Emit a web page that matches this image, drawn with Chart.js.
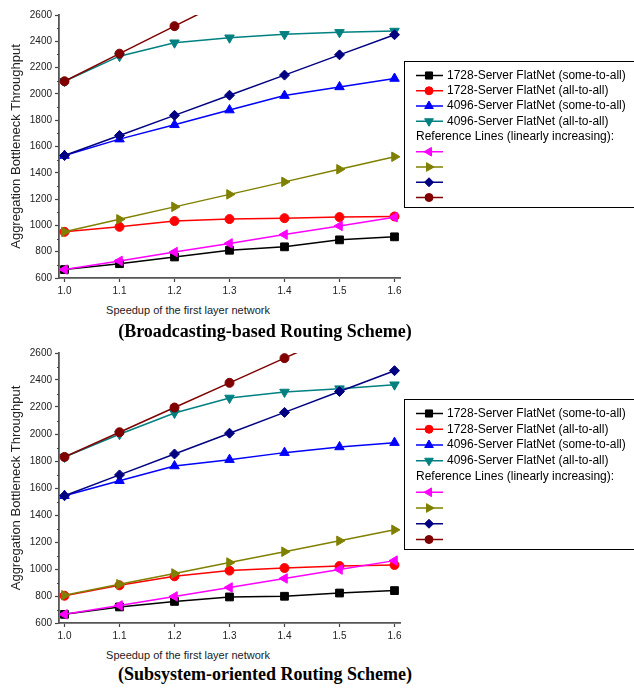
<!DOCTYPE html>
<html>
<head>
<meta charset="utf-8">
<script src="https://cdn.jsdelivr.net/npm/chart.js@4/dist/chart.umd.min.js"></script>
<style>
  html, body { margin: 0; padding: 0; background: #fff; overflow: hidden; }
  body { width: 634px; height: 689px; position: relative; }
  canvas { position: absolute; left: 0; }
  #top-chart { top: 0; }
  #bottom-chart { top: 338px; }
  .xtitle {
    position: absolute; width: 260px; left: 58px; text-align: center;
    font: 11px "Liberation Sans", Arial, sans-serif; color: #222;
  }
  .scheme {
    position: absolute; width: 400px; left: 65px; text-align: center;
    font: bold 18px "Liberation Serif", "Times New Roman", serif; color: #000;
  }
</style>
</head>
<body>
<canvas id="top-chart" width="634" height="300"></canvas>
<canvas id="bottom-chart" width="634" height="307"></canvas>
<div class="xtitle" style="top:304px">Speedup of the first layer network</div>
<div class="scheme" style="top:321px">(Broadcasting-based Routing Scheme)</div>
<div class="xtitle" style="top:649px">Speedup of the first layer network</div>
<div class="scheme" style="top:664px">(Subsystem-oriented Routing Scheme)</div>

<script>
const speedup = [1.0, 1.1, 1.2, 1.3, 1.4, 1.5, 1.6];

const seriesNames = [
    "1728-Server FlatNet (some-to-all)",
    "1728-Server FlatNet (all-to-all)",
    "4096-Server FlatNet (some-to-all)",
    "4096-Server FlatNet (all-to-all)",
];
const refHeading = "Reference Lines (linearly increasing):";

// Broadcasting-based routing scheme
const bc1728Some = [664, 709, 760, 811, 837, 890, 913];
const bc1728All = [951, 989, 1033, 1048, 1055, 1063, 1068];
const bc4096Some = [1531, 1656, 1765, 1877, 1987, 2053, 2117];
const bc4096All = [2096, 2287, 2389, 2427, 2453, 2468, 2478];
const bcRef1 = [664, 730, 797, 863, 930, 996, 1062];
const bcRef2 = [951, 1046, 1141, 1236, 1331, 1427, 1522];
const bcRef3 = [1531, 1684, 1837, 1990, 2143, 2297, 2450];
const bcRef4 = [2096, 2306, 2515, 2725, 2934, 3144, 3354];

// Subsystem-oriented routing scheme
const ss1728Some = [664, 719, 760, 793, 798, 822, 840];
const ss1728All = [802, 879, 946, 988, 1007, 1022, 1030];
const ss4096Some = [1543, 1654, 1763, 1810, 1862, 1904, 1936];
const ss4096All = [1830, 1998, 2156, 2267, 2311, 2336, 2365];
const ssRef1 = [664, 730, 797, 863, 930, 996, 1062];
const ssRef2 = [806, 887, 967, 1048, 1128, 1209, 1290];
const ssRef3 = [1543, 1697, 1852, 2006, 2160, 2315, 2469];
const ssRef4 = [1830, 2013, 2196, 2379, 2562, 2745, 2928];

const yMin = 600, yMax = 2600, yStep = 200;

// line styles: colour, marker, rotation, radius
const styles = [
    { color: "#000000", pointStyle: "rect", rotation: 0, radius: 5.5 },
    { color: "#ff0000", pointStyle: "circle", rotation: 0, radius: 4.5 },
    { color: "#0000ff", pointStyle: "triangle", rotation: 0, radius: 5.5 },
    { color: "#008080", pointStyle: "triangle", rotation: 180, radius: 5.5 },
    { color: "#ff00ff", pointStyle: "triangle", rotation: 270, radius: 5.5 },
    { color: "#808000", pointStyle: "triangle", rotation: 90, radius: 5.5 },
    { color: "#000080", pointStyle: "rectRot", rotation: 0, radius: 5 },
    { color: "#800000", pointStyle: "circle", rotation: 0, radius: 4.5 },
];

const font = '"Liberation Sans", Arial, sans-serif';

function makeDatasets(series) {
    return series.map((values, i) => {
        const s = styles[i];
        return {
            label: i < 4 ? seriesNames[i] : "",
            data: values.map((v, j) => ({ x: speedup[j], y: v })),
            borderColor: s.color,
            backgroundColor: s.color,
            pointBackgroundColor: s.color,
            pointBorderColor: s.color,
            pointStyle: s.pointStyle,
            pointRotation: s.rotation,
            pointRadius: s.radius,
            borderWidth: 1.5,
            pointBorderWidth: 1,
            order: i < 4 ? 1 : 0,
        };
    });
}

// Legend box drawn to the right of the plot
const boxLegend = {
    id: "boxLegend",
    afterDraw(chart, args, opts) {
        const ctx = chart.ctx;
        const top = opts.top, bottom = opts.bottom, left = opts.left;
        const step = (bottom - top - 24) / 8;
        ctx.save();
        ctx.fillStyle = "#fff";
        ctx.fillRect(left, top, chart.width - left + 5, bottom - top);
        ctx.strokeStyle = "#000";
        ctx.lineWidth = 1;
        ctx.strokeRect(left + 0.5, top + 0.5, chart.width, bottom - top);

        ctx.font = "12px " + font;
        ctx.textBaseline = "middle";
        ctx.fillStyle = "#000";
        const rows = [0, 1, 2, 3, -1, 4, 5, 6, 7];
        rows.forEach((idx, r) => {
            const y = top + 14.5 + r * step;
            if (idx < 0) {
                ctx.fillStyle = "#000";
                ctx.fillText(refHeading, left + 12, y);
                return;
            }
            const ds = chart.data.datasets[idx];
            ctx.strokeStyle = ds.borderColor;
            ctx.lineWidth = 1.5;
            ctx.beginPath();
            ctx.moveTo(left + 12, y);
            ctx.lineTo(left + 39, y);
            ctx.stroke();
            ctx.fillStyle = ds.pointBackgroundColor;
            ctx.strokeStyle = ds.pointBorderColor;
            ctx.lineWidth = 1;
            Chart.helpers.drawPoint(ctx, {
                pointStyle: ds.pointStyle,
                rotation: ds.pointRotation,
                radius: ds.pointRadius - 0.5,
                borderWidth: 1,
            }, left + 25, y);
            if (ds.label) {
                ctx.fillStyle = "#000";
                ctx.fillText(ds.label, left + 43, y);
            }
        });
        ctx.restore();
    }
};

// minor ticks on the y axis
const minorTicks = {
    id: "minorTicks",
    afterDraw(chart) {
        const y = chart.scales.y;
        const ctx = chart.ctx;
        ctx.save();
        ctx.strokeStyle = "#444";
        ctx.lineWidth = 1;
        for (let v = yMin + yStep / 2; v < yMax; v += yStep) {
            const py = Math.round(y.getPixelForValue(v)) + 0.5;
            ctx.beginPath();
            ctx.moveTo(chart.chartArea.left - 2, py);
            ctx.lineTo(chart.chartArea.left, py);
            ctx.stroke();
        }
        ctx.restore();
    }
};

function makeChart(id, series, legendBox) {
    const ctx = document.getElementById(id).getContext("2d");
    return new Chart(ctx, {
        type: "line",
        data: { datasets: makeDatasets(series) },
        options: {
            responsive: false,
            animation: false,
            events: [],
            layout: { padding: { top: 15, right: 234, bottom: 0, left: 0 } },
            plugins: {
                legend: { display: false },
                tooltip: { enabled: false },
                boxLegend: legendBox,
            },
            scales: {
                x: {
                    type: "linear",
                    min: 0.99,
                    max: 1.61,
                    afterBuildTicks: (scale) => {
                        scale.ticks = speedup.map((v) => ({ value: v }));
                    },
                    afterFit: (scale) => { scale.height = 22; },
                    grid: { display: true, drawOnChartArea: false, drawTicks: true, tickLength: 4, color: "#444", tickWidth: 1.2 },
                    border: { display: true, color: "#555", width: 1.8 },
                    ticks: {
                        padding: 3,
                        maxRotation: 0,
                        color: "#222",
                        font: { family: font, size: 10 },
                        callback: (v) => Number(v).toFixed(1),
                    },
                },
                y: {
                    min: yMin,
                    max: yMax,
                    afterFit: (scale) => { scale.width = 59; },
                    grid: { display: true, drawOnChartArea: false, drawTicks: true, tickLength: 4, color: "#444", tickWidth: 1.2 },
                    border: { display: true, color: "#555", width: 1.8 },
                    ticks: {
                        stepSize: yStep,
                        padding: 3,
                        color: "#222",
                        font: { family: font, size: 10 },
                        callback: (v) => String(v),
                    },
                    title: {
                        display: true,
                        text: "Aggregation Bottleneck Throughput",
                        color: "#222",
                        font: { family: font, size: 13 },
                        padding: { top: 9, bottom: 0 },
                    },
                },
            },
        },
        plugins: [boxLegend, minorTicks],
    });
}

makeChart("top-chart",
    [bc1728Some, bc1728All, bc4096Some, bc4096All, bcRef1, bcRef2, bcRef3, bcRef4],
    { left: 404, top: 61, bottom: 207 });

makeChart("bottom-chart",
    [ss1728Some, ss1728All, ss4096Some, ss4096All, ssRef1, ssRef2, ssRef3, ssRef4],
    { left: 404, top: 61, bottom: 211 });
</script>
</body>
</html>
